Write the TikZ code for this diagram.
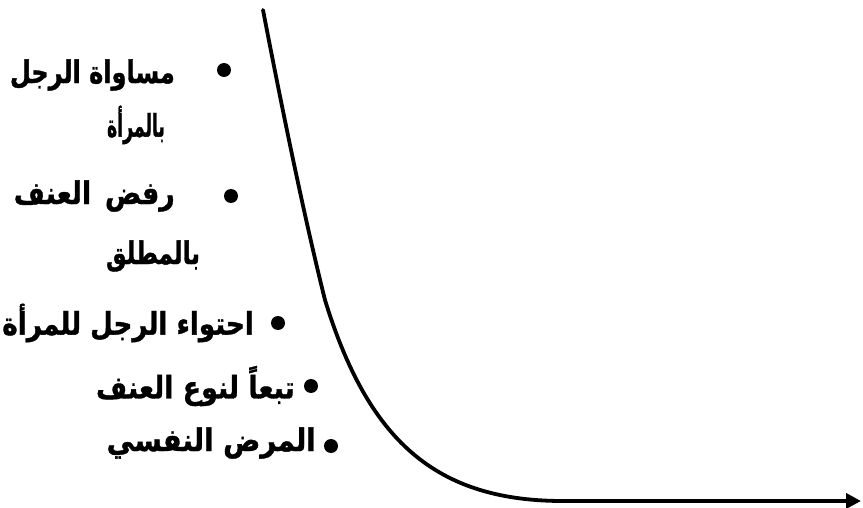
\documentclass[tikz,border=0pt]{standalone}
\usepackage{fontspec}
\usetikzlibrary{arrows.meta}
\TeXXeTstate=1
\newfontfamily\arabicfont[Script=Arabic, BoldFeatures={FakeBold=1.2}]{DejaVu Sans}
\tikzset{
  ar/.style={font=\arabicfont\bfseries\fontsize{24}{28}\selectfont, inner sep=0pt, text=black},
  bul/.style={circle, fill=black, inner sep=0pt, minimum size=14pt},
  curveline/.style={line width=3.8pt, line cap=round, black},
}
\begin{document}
\begin{tikzpicture}[x=1pt,y=-1pt]
\useasboundingbox (0,0) rectangle (863,508);
% curve
\coordinate (top) at (263,10);
\coordinate (mid) at (325,300);
\coordinate (bend) at (560,501);
\coordinate (tip) at (861,501);
\draw[curveline] (top) .. controls (290,150) and (310,240) .. (mid)
  .. controls (368,440) and (435,500) .. (bend);
\draw[curveline, line cap=butt, -{Triangle[length=15pt,width=15pt]}] (bend) -- (tip);
% bullets
\node[bul] (b1) at (224,70) {};
\node[bul] (b3) at (231,196) {};
\node[bul] (b5) at (278,323) {};
\node[bul] (b6) at (311,386) {};
\node[bul] (b7) at (331,446) {};
% texts
\node[ar, anchor=east] (t1) at (175,75) {\scalebox{1.0}[1.3]{\beginR مساواة الرجل\endR}};
\node[ar] (t2) at (136,125) {\scalebox{0.72}[1.3]{\beginR بالمرأة\endR}};
\node[ar, anchor=east] (t3) at (175,196) {\scalebox{1.12}[1.3]{\beginR رفض\hspace{4pt} العنف\endR}};
\node[ar] (t4) at (153,256) {\scalebox{0.96}[1.3]{\beginR بالمطلق\endR}};
\node[ar, anchor=east] (t5) at (254,323) {\scalebox{1.09}[1.3]{\beginR احتواء الرجل للمرأة\endR}};
\node[ar, anchor=east] (t6) at (295,386) {\scalebox{1.12}[1.3]{\beginR تبعاً لنوع العنف\endR}};
\node[ar, anchor=east] (t7) at (316,443) {\scalebox{1.15}[1.3]{\beginR المرض النفسي\endR}};
\end{tikzpicture}
\end{document}
